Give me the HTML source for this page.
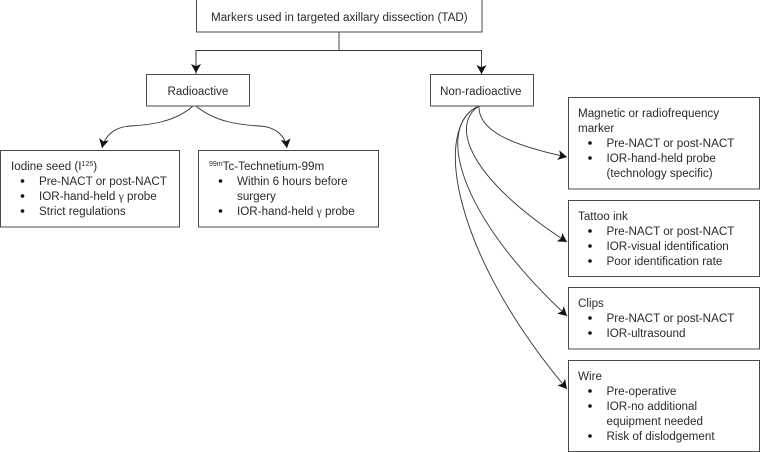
<!DOCTYPE html>
<html><head><meta charset="utf-8">
<style>
html,body{margin:0;padding:0;background:#fff;width:760px;height:452px;overflow:hidden}
svg{display:block}
text{font-family:"Liberation Sans",sans-serif;font-size:11.65px;fill:#2a2a2a}
.g{font-family:"Liberation Serif",serif}
rect{fill:#fff;stroke:#4a4a4a;stroke-width:1}
.c{fill:none;stroke:#333;stroke-width:.9}
.b{fill:#111}
</style></head><body>
<svg width="760" height="452" viewBox="0 0 760 452" xmlns="http://www.w3.org/2000/svg">
<defs><marker id="a" markerUnits="userSpaceOnUse" markerWidth="12" markerHeight="12" refX="9" refY="5" orient="auto"><path d="M0 0L9 5L0 10L2.2 5Z" fill="#111"/></marker></defs>

<path class="c" d="M339 32V50.5"/>
<path class="c" d="M196 74V50.5H481.5V74" marker-end="url(#a)"/>
<path class="c" d="M196 50.5V73" marker-end="url(#a)"/>

<path class="c" d="M193 106C175 122 150 125 130 126C115 127 105 135 102 148" marker-end="url(#a)"/>
<path class="c" d="M196 106C215 122 240 125 260 126C275 127 285 135 287 148" marker-end="url(#a)"/>
<path class="c" d="M479 106C478 130 510 145 567 157" marker-end="url(#a)"/>
<path class="c" d="M479 106C450 125 468 178 567 242" marker-end="url(#a)"/>
<path class="c" d="M479 106C436 125 455 212 567 316" marker-end="url(#a)"/>
<path class="c" d="M479 106C433 125 450 250 567 389" marker-end="url(#a)"/>

<rect x="196.500" y="-1" width="285.500" height="33"/>
<rect x="146.500" y="74.500" width="103" height="31.500"/>
<rect x="430.500" y="74.500" width="103" height="31.500"/>
<rect x="0.500" y="150.500" width="179" height="76.500"/>
<rect x="198.500" y="150.500" width="180" height="76.500"/>
<rect x="568.500" y="97.500" width="191" height="91.500"/>
<rect x="568.500" y="200.500" width="191" height="76"/>
<rect x="568.500" y="287.500" width="191" height="61.500"/>
<rect x="568.500" y="360.500" width="191" height="91"/>

<text x="211" y="21">Markers used in targeted axillary dissection (TAD)</text>
<text x="167.500" y="95">Radioactive</text>
<text x="440" y="95">Non-radioactive</text>

<text x="11" y="170">Iodine seed (I<tspan font-size="7" dy="-4">125</tspan><tspan dy="4">)</tspan></text>
<circle class="b" cx="22.500" cy="181" r="1.800"/><text x="39" y="185">Pre-NACT or post-NACT</text>
<circle class="b" cx="22.500" cy="196" r="1.800"/><text x="39" y="200">IOR-hand-held <tspan class="g">γ</tspan> probe</text>
<circle class="b" cx="22.500" cy="211" r="1.800"/><text x="39" y="215">Strict regulations</text>

<text x="209" y="170"><tspan font-size="7" dy="-4">99m</tspan><tspan dy="4">Tc-Technetium-99m</tspan></text>
<circle class="b" cx="220.500" cy="181" r="1.800"/><text x="237" y="185">Within 6 hours before</text>
<text x="237" y="200">surgery</text>
<circle class="b" cx="220.500" cy="211" r="1.800"/><text x="237" y="215">IOR-hand-held <tspan class="g">γ</tspan> probe</text>

<text x="578" y="117">Magnetic or radiofrequency</text>
<text x="578" y="132">marker</text>
<circle class="b" cx="590" cy="143" r="1.800"/><text x="606.500" y="147">Pre-NACT or post-NACT</text>
<circle class="b" cx="590" cy="158" r="1.800"/><text x="606.500" y="162">IOR-hand-held probe</text>
<text x="606.500" y="177">(technology specific)</text>

<text x="578" y="220">Tattoo ink</text>
<circle class="b" cx="590" cy="231" r="1.800"/><text x="606.500" y="235">Pre-NACT or post-NACT</text>
<circle class="b" cx="590" cy="246" r="1.800"/><text x="606.500" y="250">IOR-visual identification</text>
<circle class="b" cx="590" cy="261" r="1.800"/><text x="606.500" y="265">Poor identification rate</text>

<text x="578" y="307">Clips</text>
<circle class="b" cx="590" cy="318" r="1.800"/><text x="606.500" y="322">Pre-NACT or post-NACT</text>
<circle class="b" cx="590" cy="333" r="1.800"/><text x="606.500" y="337">IOR-ultrasound</text>

<text x="578" y="380">Wire</text>
<circle class="b" cx="590" cy="391" r="1.800"/><text x="606.500" y="395">Pre-operative</text>
<circle class="b" cx="590" cy="406" r="1.800"/><text x="606.500" y="410">IOR-no additional</text>
<text x="606.500" y="425">equipment needed</text>
<circle class="b" cx="590" cy="436" r="1.800"/><text x="606.500" y="440">Risk of dislodgement</text>
</svg>
</body></html>
